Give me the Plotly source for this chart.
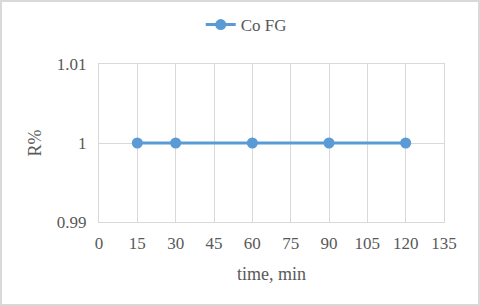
import plotly.graph_objects as go

time_min = [15, 30, 60, 90, 120]
r_pct = [1, 1, 1, 1, 1]
x_ticks = [0, 15, 30, 45, 60, 75, 90, 105, 120, 135]
y_ticks = [0.99, 1, 1.01]
y_tick_labels = ["0.99", "1", "1.01"]

SERIF = "Liberation Serif"

fig = go.Figure()
fig.add_trace(go.Scatter(
    x=time_min, y=r_pct, mode="lines+markers", name="Co FG",
    line=dict(color="#5B9BD5", width=3),
    marker=dict(color="#5B9BD5", size=11),
))

fig.update_layout(
    width=480, height=306,
    margin=dict(l=99, r=36, t=64, b=84),
    paper_bgcolor="white", plot_bgcolor="white",
    font=dict(family=SERIF, color="#595959", size=17),
    showlegend=True,
    legend=dict(orientation="h", x=0.513, xanchor="center", xref="container",
                y=1 - 25 / 306, yanchor="middle", yref="container",
                font=dict(size=17, family=SERIF, color="#595959")),
    xaxis=dict(range=[0, 135], tickvals=x_ticks, showgrid=True, gridcolor="#D9D9D9",
               showline=True, linecolor="#D9D9D9", mirror=True, zeroline=False,
               ticks="", ticklabelstandoff=6, tickfont=dict(size=17, family=SERIF),
               title=dict(text="time, min", font=dict(size=18, family=SERIF), standoff=14)),
    yaxis=dict(range=[0.99, 1.01], tickvals=y_ticks, ticktext=y_tick_labels,
               showgrid=True, gridcolor="#D9D9D9",
               showline=True, linecolor="#D9D9D9", mirror=True, zeroline=False,
               ticks="", ticklabelstandoff=8, tickfont=dict(size=17, family=SERIF),
               title=dict(text="R%", font=dict(size=18, family=SERIF), standoff=10)),
)
fig.add_shape(type="rect", xref="paper", yref="paper", x0=-98/345, y0=-83/158,
              x1=1 + 35/345, y1=1 + 63/158, line=dict(color="#D9D9D9", width=2), layer="below")
fig.write_html("out.html", config={"displayModeBar": False},
               post_script="document.body.style.margin='0px';document.body.style.overflow='hidden';")
